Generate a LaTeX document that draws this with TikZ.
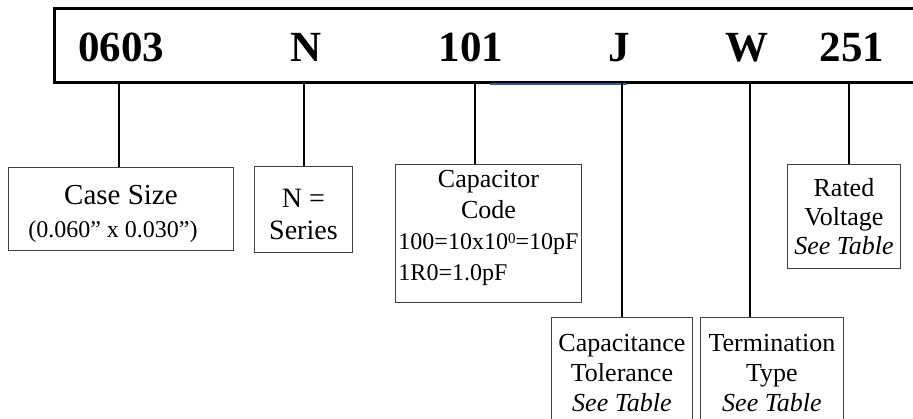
\documentclass[tikz,border=0pt]{standalone}
\usepackage{fontspec}
\setmainfont{Liberation Serif}
\usepackage{tikz}
\usetikzlibrary{calc}
\definecolor{boxgray}{RGB}{64,64,64}
\definecolor{segblue}{RGB}{58,88,140}
\tikzset{
  bar/.style={line width=3pt, black},
  code/.style={font=\fontsize{43}{43}\selectfont\bfseries, inner sep=0pt, anchor=base},
  stem/.style={line width=1.8pt, black},
  box/.style={draw=boxgray, line width=0.9pt, inner sep=0pt, anchor=north west, align=center,
      font=\fontsize{26}{30}\selectfont},
  seg/.style={line width=1.2pt, segblue},
}

\begin{document}
\begin{tikzpicture}[x=1pt,y=-1pt]
\useasboundingbox (0,0) rectangle (913,419);
\clip (0,0) rectangle (913,419);
% code bar, open on the right
\draw[bar] (930,9) -- (54,9) -- (54,83) -- (930,83);
\draw[seg] (490,84) -- (627,84);
\node[code] (k0603) at (121,62) {0603};
\node[code] (kN)    at (306,62) {N};
\node[code] (k101)  at (471,62) {101};
\node[code] (kJ)    at (619,62) {J};
\node[code] (kW)    at (747,62) {W};
\node[code] (k251)  at (852,62) {251};
\coordinate (t0603) at (119,83);
\coordinate (tN)    at (304,83);
\coordinate (t101)  at (475,83);
\coordinate (tJ)    at (622,83);
\coordinate (tW)    at (750,83);
\coordinate (t251)  at (849,83);
% explanation boxes
\node[box, minimum width=225, minimum height=83, font=\fontsize{29}{33}\selectfont] (case) at (8,167)
  {\rule{0pt}{29pt}Case Size\\{\fontsize{24}{33}\selectfont (0.060'' x 0.030'')\hspace*{16pt}}};
\node[box, minimum width=98, minimum height=86, font=\fontsize{28}{32}\selectfont] (ser) at (254,166)
  {\rule{0pt}{29pt}N =\\Series};
\node[box, minimum width=186, minimum height=138, font=\fontsize{24}{31}\selectfont] (cap) at (395,164)
  {\begin{tabular}{@{}l@{}}
    \multicolumn{1}{c}{\fontsize{26}{31}\selectfont Capacitor}\\
    \multicolumn{1}{c}{\fontsize{26}{31}\selectfont Code}\\
    100=10x10{\fontsize{15}{15}\selectfont\raisebox{6pt}{0}}=10pF\\
    1R0=1.0pF\rule[-20pt]{0pt}{0pt}
  \end{tabular}};
\node[box, minimum width=113, minimum height=104, font=\fontsize{26}{29}\selectfont] (volt) at (787,164)
  {Rated\\Voltage\\\textit{See Table}};
\node[box, minimum width=141, minimum height=111] (tol) at (551,317)
  {Capacitance\\Tolerance\\\textit{See Table}};
\node[box, minimum width=143, minimum height=111] (term) at (700,317)
  {Termination\\Type\\\textit{See Table}};
% stems
\draw[stem] (t0603) -- (t0603 |- case.north);
\draw[stem] (tN) -- (tN |- ser.north);
\draw[stem] (t101) -- (t101 |- cap.north);
\draw[stem] (tJ) -- (tJ |- tol.north);
\draw[stem] (tW) -- (tW |- term.north);
\draw[stem] (t251) -- (t251 |- volt.north);
\end{tikzpicture}
\end{document}
